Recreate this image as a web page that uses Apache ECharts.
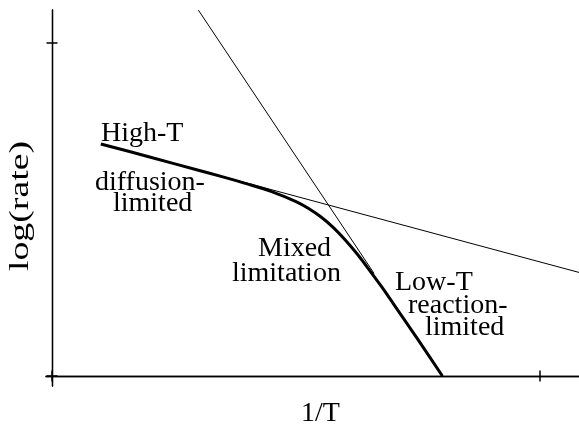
<!DOCTYPE html>
<html>
<head>
<meta charset="utf-8">
<script src="https://cdn.jsdelivr.net/npm/echarts@6/dist/echarts.min.js"></script>
<style>
html,body{margin:0;padding:0;background:#fff;}
#chart{width:579px;height:435px;}
</style>
</head>
<body>
<div id="chart"></div>
<script>
// Data (x = 1/T, y = log(rate))
const curveX = [0.10, 0.20, 0.30, 0.35, 0.40, 0.45, 0.50, 0.525, 0.55, 0.575, 0.60, 0.625, 0.65, 0.675, 0.70, 0.75, 0.80];
const curveY = [0.697, 0.658, 0.618, 0.598, 0.577, 0.554, 0.524, 0.504, 0.479, 0.448, 0.410, 0.367, 0.319, 0.269, 0.216, 0.109, 0.000];
const steepX = [0.30, 0.66];
const steepY = [1.099, 0.308];
const shallowX = [0.35, 1.08];
const shallowY = [0.599, 0.311];
const xTicks = [0, 1];
const yTicks = [0, 1];
const xTitle = '1/T';
const yTitle = 'log(rate)';
const labels = [
  {text: 'High-T', x: 101, y: 134},
  {text: 'diffusion-', x: 95, y: 183},
  {text: 'limited', x: 113, y: 204},
  {text: 'Mixed', x: 258, y: 249},
  {text: 'limitation', x: 232, y: 274},
  {text: 'Low-T', x: 395, y: 283},
  {text: 'reaction-', x: 408, y: 306},
  {text: 'limited', x: 425, y: 328}
];

const FONT = "'Liberation Serif', 'Times New Roman', serif";
const zip = (xs, ys) => xs.map((x, i) => [x, ys[i]]);

const chart = echarts.init(document.getElementById('chart'), null, {renderer: 'canvas'});

function xAxisDef(inside, withName) {
  return {
    type: 'value', min: -0.0123, max: 1.0799, position: 'bottom',
    name: withName ? xTitle : '', nameLocation: 'middle', nameGap: 14,
    nameTextStyle: {fontFamily: FONT, fontSize: 28, color: '#000', padding: [0, 0, 0, 16]},
    axisLine: {show: true, onZero: true, onZeroAxisIndex: 0, lineStyle: {color: '#000', width: 1.3}},
    axisTick: {show: true, inside: inside, length: 5.5, customValues: xTicks, lineStyle: {color: '#000', width: 1.5}},
    axisLabel: {show: false}, splitLine: {show: false}
  };
}
function yAxisDef(inside) {
  return {
    type: 'value', min: -0.0301, max: 1.0994, position: 'left',
    axisLine: {show: true, onZero: true, onZeroAxisIndex: 0, lineStyle: {color: '#000', width: 1.3}},
    axisTick: {show: true, inside: inside, length: 5.5, customValues: yTicks, lineStyle: {color: '#000', width: 1.5}},
    axisLabel: {show: false}, splitLine: {show: false}
  };
}

const graphics = labels.map(l => ({
  type: 'text', x: l.x, y: l.y, silent: true,
  style: {text: l.text, fill: '#000', font: '28px ' + FONT, textAlign: 'left', verticalAlign: 'middle'}
}));
graphics.push({
  type: 'text', x: 21, y: 206, rotation: Math.PI / 2, scaleX: 1.35, silent: true,
  style: {text: yTitle, fill: '#000', font: '28px ' + FONT, textAlign: 'center', verticalAlign: 'middle'}
});

chart.setOption({
  animation: false,
  backgroundColor: '#fff',
  grid: {left: 46, right: 0, top: 10, bottom: 49, containLabel: false, outerBoundsMode: 'none'},
  xAxis: [xAxisDef(false, true), xAxisDef(true, false)],
  yAxis: [yAxisDef(false), yAxisDef(true)],
  series: [
    {type: 'line', data: zip(steepX, steepY), showSymbol: false, lineStyle: {color: '#000', width: 1}, z: 3},
    {type: 'line', data: zip(shallowX, shallowY), showSymbol: false, lineStyle: {color: '#000', width: 1}, z: 3},
    {type: 'line', data: zip(curveX, curveY), showSymbol: false, smooth: 0.3, lineStyle: {color: '#000', width: 3}, z: 4}
  ],
  graphic: graphics
});
</script>
</body>
</html>
